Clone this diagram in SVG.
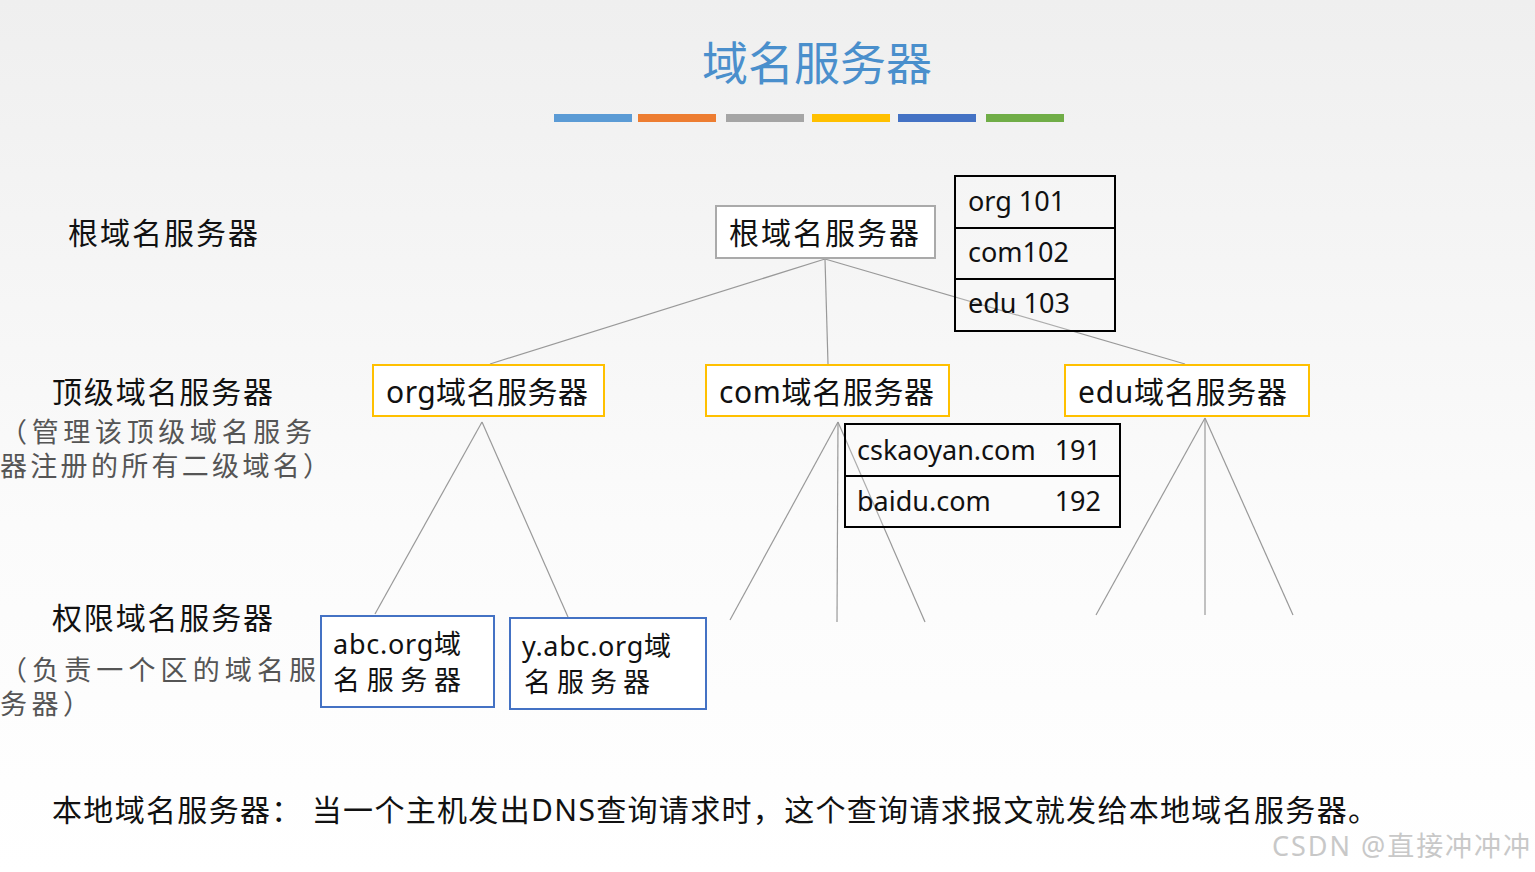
<svg xmlns="http://www.w3.org/2000/svg" width="1535" height="872" viewBox="0 0 1535 872">
<defs>
<linearGradient id="bg" x1="0" y1="0" x2="0" y2="1"><stop offset="0" stop-color="#efefef"/><stop offset="0.6" stop-color="#fbfbfb"/><stop offset="1" stop-color="#ffffff"/></linearGradient>
<style>
text{font-family:"Noto Sans","Noto Sans CJK SC",sans-serif;font-size:27px;fill:#111}
.z{font-size:30px}
.w{font-size:27px}
.g{fill:#555}
.y{fill:#fff;stroke:#ffc000;stroke-width:2}
.b{fill:#fff;stroke:#4472c4;stroke-width:2}
.t{fill:#fff;fill-opacity:0.2;stroke:#000;stroke-width:2}
.c line{stroke:#999;stroke-width:1.2}
</style>
</defs>
<rect width="1535" height="872" fill="url(#bg)"/>
<text x="817" y="80" text-anchor="middle" style="font-size:46px;fill:#4a8fcc" textLength="230">域名服务器</text>
<g>
<rect x="554" y="114" width="78" height="8" fill="#5b9bd5"/>
<rect x="638" y="114" width="78" height="8" fill="#ed7d31"/>
<rect x="726" y="114" width="78" height="8" fill="#a5a5a5"/>
<rect x="812" y="114" width="78" height="8" fill="#ffc000"/>
<rect x="898" y="114" width="78" height="8" fill="#4472c4"/>
<rect x="986" y="114" width="78" height="8" fill="#70ad47"/>
</g>
<text x="68" y="244" class="z" textLength="190">根域名服务器</text>
<text x="52" y="403" class="z" textLength="221">顶级域名服务器</text>
<text x="0" y="442" class="w g" textLength="312">（管理该顶级域名服务</text>
<text x="0" y="476" class="w g" textLength="330">器注册的所有二级域名）</text>
<text x="52" y="629" class="z" textLength="221">权限域名服务器</text>
<text x="0" y="680" class="w g" textLength="316">（负责一个区的域名服</text>
<text x="0" y="714" class="w g" textLength="90">务器）</text>
<g class="c">
<line x1="825" y1="259" x2="490" y2="364"/>
<line x1="825" y1="259" x2="828" y2="364"/>
<line x1="825" y1="259" x2="1185" y2="364"/>
<line x1="482" y1="422" x2="375" y2="614"/>
<line x1="482" y1="422" x2="568" y2="617"/>
<line x1="838" y1="422" x2="730" y2="620"/>
<line x1="838" y1="422" x2="837" y2="622"/>
<line x1="838" y1="422" x2="925" y2="622"/>
<line x1="1205" y1="418" x2="1096" y2="615"/>
<line x1="1205" y1="418" x2="1205" y2="615"/>
<line x1="1205" y1="418" x2="1293" y2="615"/>
</g>
<g id="root"><rect x="716" y="206" width="219" height="52" fill="#fff" stroke="#aaa" stroke-width="2"/><text x="729" y="244" class="z" textLength="190">根域名服务器</text></g>
<g id="roottable"><rect x="955" y="176" width="160" height="155" class="t"/><line x1="955" y1="228" x2="1115" y2="228" stroke="#000" stroke-width="2"/><line x1="955" y1="279" x2="1115" y2="279" stroke="#000" stroke-width="2"/>
<text x="968" y="211">org 101</text><text x="968" y="262">com102</text><text x="968" y="313">edu 103</text></g>
<g id="org"><rect x="373" y="365" width="231" height="51" class="y"/><text x="386" y="403" class="z" textLength="202">org域名服务器</text></g>
<g id="com"><rect x="706" y="365" width="243" height="51" class="y"/><text x="719" y="403" class="z" textLength="215">com域名服务器</text></g>
<g id="edu"><rect x="1065" y="365" width="244" height="51" class="y"/><text x="1078" y="403" class="z" textLength="209">edu域名服务器</text></g>
<g id="comtable"><rect x="845" y="424" width="275" height="103" class="t"/><line x1="845" y1="476" x2="1120" y2="476" stroke="#000" stroke-width="2"/>
<text x="857" y="460">cskaoyan.com</text><text x="1101" y="460" text-anchor="end">191</text>
<text x="857" y="511">baidu.com</text><text x="1101" y="511" text-anchor="end">192</text></g>
<g id="abc"><rect x="321" y="616" width="173" height="91" class="b"/><text x="333" y="654" class="w" textLength="128">abc.org域</text><text x="333" y="690" class="w" textLength="128">名服务器</text></g>
<g id="yabc"><rect x="510" y="618" width="196" height="91" class="b"/><text x="522" y="656" class="w" textLength="149">y.abc.org域</text><text x="524" y="692" class="w" textLength="126">名服务器</text></g>
<text x="52" y="821" class="z" textLength="1326">本地域名服务器： 当一个主机发出DNS查询请求时，这个查询请求报文就发给本地域名服务器。</text>
<text x="1272" y="856" style="font-size:27px;fill:#c8c8c8" textLength="258">CSDN @直接冲冲冲</text>
</svg>
